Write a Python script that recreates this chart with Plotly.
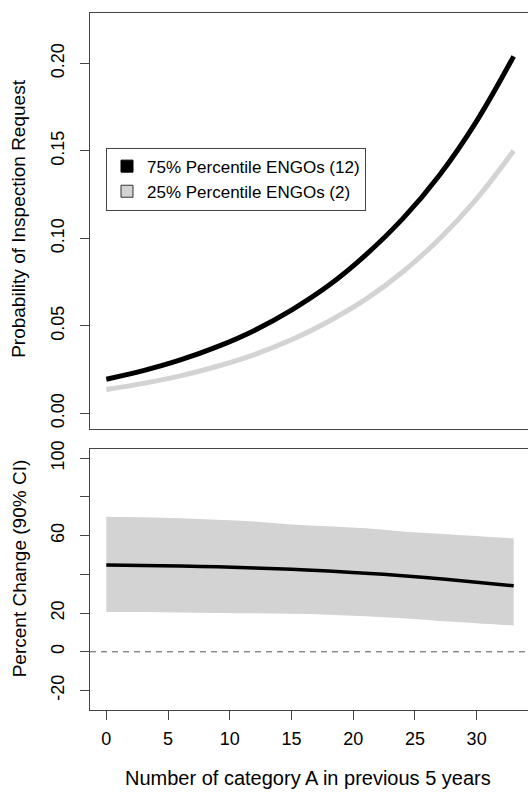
import plotly.graph_objects as go

# ---- data ----
x_vals = [0, 3, 6, 9, 12, 15, 18, 21, 24, 27, 30, 33]
prob_high = [0.0195, 0.0244, 0.0305, 0.0381, 0.0474, 0.0590, 0.0730, 0.0904, 0.1111, 0.1362, 0.1670, 0.2040]
prob_low = [0.0136, 0.0171, 0.0214, 0.0269, 0.0336, 0.0420, 0.0525, 0.0651, 0.0808, 0.0998, 0.1226, 0.1500]
pct_mean = [44.8, 44.6, 44.3, 43.9, 43.3, 42.6, 41.7, 40.6, 39.3, 37.7, 35.9, 34.1]
pct_upper = [69.8, 69.5, 69.0, 68.2, 67.3, 65.8, 64.9, 63.8, 62.2, 61.0, 59.8, 58.6]
pct_lower = [20.6, 20.5, 20.3, 20.1, 19.9, 19.6, 19.2, 18.4, 17.3, 15.9, 14.8, 13.6]

top_tickvals = [0.0, 0.05, 0.10, 0.15, 0.20]
top_ticktext = ["0.00", "0.05", "0.10", "0.15", "0.20"]
bot_tickvals = [-20, 0, 20, 40, 60, 80, 100]
bot_ticktext = ["-20", "0", "20", "", "60", "", "100"]
x_tickvals = [0, 5, 10, 15, 20, 25, 30]

legend_names = ["75% Percentile ENGOs (12)", "25% Percentile ENGOs (2)"]

W, H = 528, 797
FONT = "Liberation Sans, Arial, Helvetica, sans-serif"
AX = "#444444"
LGRAY = "#D3D3D3"

fig = go.Figure()

# legend entries (square keys) - first so they keep order
fig.add_trace(go.Scatter(x=[None], y=[None], mode="markers", name=legend_names[0],
                         marker=dict(symbol="square", size=12, color="black", line=dict(color="black", width=1)),
                         xaxis="x", yaxis="y"))
fig.add_trace(go.Scatter(x=[None], y=[None], mode="markers", name=legend_names[1],
                         marker=dict(symbol="square", size=12, color=LGRAY, line=dict(color="#333333", width=1)),
                         xaxis="x", yaxis="y"))

# top panel curves
fig.add_trace(go.Scatter(x=x_vals, y=prob_low, mode="lines", line=dict(color=LGRAY, width=5, shape="spline"),
                         showlegend=False, xaxis="x", yaxis="y", hoverinfo="skip"))
fig.add_trace(go.Scatter(x=x_vals, y=prob_high, mode="lines", line=dict(color="black", width=5, shape="spline"),
                         showlegend=False, xaxis="x", yaxis="y", hoverinfo="skip"))

# bottom panel CI band + mean
fig.add_trace(go.Scatter(x=x_vals, y=pct_lower, mode="lines", line=dict(width=0, color=LGRAY, shape="spline"),
                         showlegend=False, xaxis="x2", yaxis="y2", hoverinfo="skip"))
fig.add_trace(go.Scatter(x=x_vals, y=pct_upper, mode="lines", line=dict(width=0, color=LGRAY, shape="spline"),
                         fill="tonexty", fillcolor=LGRAY,
                         showlegend=False, xaxis="x2", yaxis="y2", hoverinfo="skip"))
fig.add_trace(go.Scatter(x=x_vals, y=pct_mean, mode="lines", line=dict(color="black", width=3.5, shape="spline"),
                         showlegend=False, xaxis="x2", yaxis="y2", hoverinfo="skip"))

# dashed zero line
fig.add_shape(type="line", xref="x2 domain", yref="y2", x0=0, x1=1, y0=0, y1=0,
              line=dict(color="#555555", width=1, dash="6px,5px"))

xdom = [90 / W, 1.0]
top_dom = [(H - 425) / H, (H - 5) / H]
bot_dom = [(H - 709) / H, (H - 445) / H]
xrange = [-1.32, 34.16]

common_axis = dict(showgrid=False, zeroline=False, showline=True, linecolor=AX, linewidth=1,
                   tickcolor=AX, tickwidth=1, ticklen=9,
                   tickfont=dict(family=FONT, size=18, color="black"))

fig.update_layout(
    width=W, height=H,
    margin=dict(l=0, r=0, t=0, b=0),
    paper_bgcolor="white", plot_bgcolor="white",
    font=dict(family=FONT, color="black"),
    xaxis=dict(domain=xdom, anchor="y", range=xrange, mirror=True, ticks="", showticklabels=False,
               showgrid=False, zeroline=False, showline=True, linecolor=AX, linewidth=1),
    yaxis=dict(domain=top_dom, anchor="x", range=[-0.0088, 0.2288], ticks="outside",
               tickvals=top_tickvals, ticktext=top_ticktext, tickangle=-90, ticklabelstandoff=9,
               **common_axis),
    xaxis2=dict(domain=xdom, anchor="y2", range=xrange, mirror=True, ticks="outside",
                tickvals=x_tickvals, ticklabelstandoff=4, **common_axis),
    yaxis2=dict(domain=bot_dom, anchor="x2", range=[-30, 105], ticks="outside",
                tickvals=bot_tickvals, ticktext=bot_ticktext, tickangle=-90, ticklabelstandoff=9,
                **common_axis),
    legend=dict(x=106 / W, y=(H - 141) / H, xanchor="left", yanchor="top", traceorder="normal",
                bgcolor="white", bordercolor=AX, borderwidth=1,
                font=dict(family=FONT, size=17, color="black")),
    annotations=[
        dict(text="Probability of Inspection Request", xref="paper", yref="paper",
             x=19 / W, y=(H - 213) / H, xanchor="center", yanchor="middle", textangle=-90,
             showarrow=False, font=dict(family=FONT, size=19, color="black")),
        dict(text="Percent Change (90% CI)", xref="paper", yref="paper",
             x=19 / W, y=(H - 566) / H, xanchor="center", yanchor="middle", textangle=-90,
             showarrow=False, font=dict(family=FONT, size=19, color="black")),
        dict(text="Number of category A in previous 5 years", xref="paper", yref="paper",
             x=308 / W, y=(H - 778) / H, xanchor="center", yanchor="middle",
             showarrow=False, font=dict(family=FONT, size=20, color="black")),
    ],
)

fig.write_html("out.html")
